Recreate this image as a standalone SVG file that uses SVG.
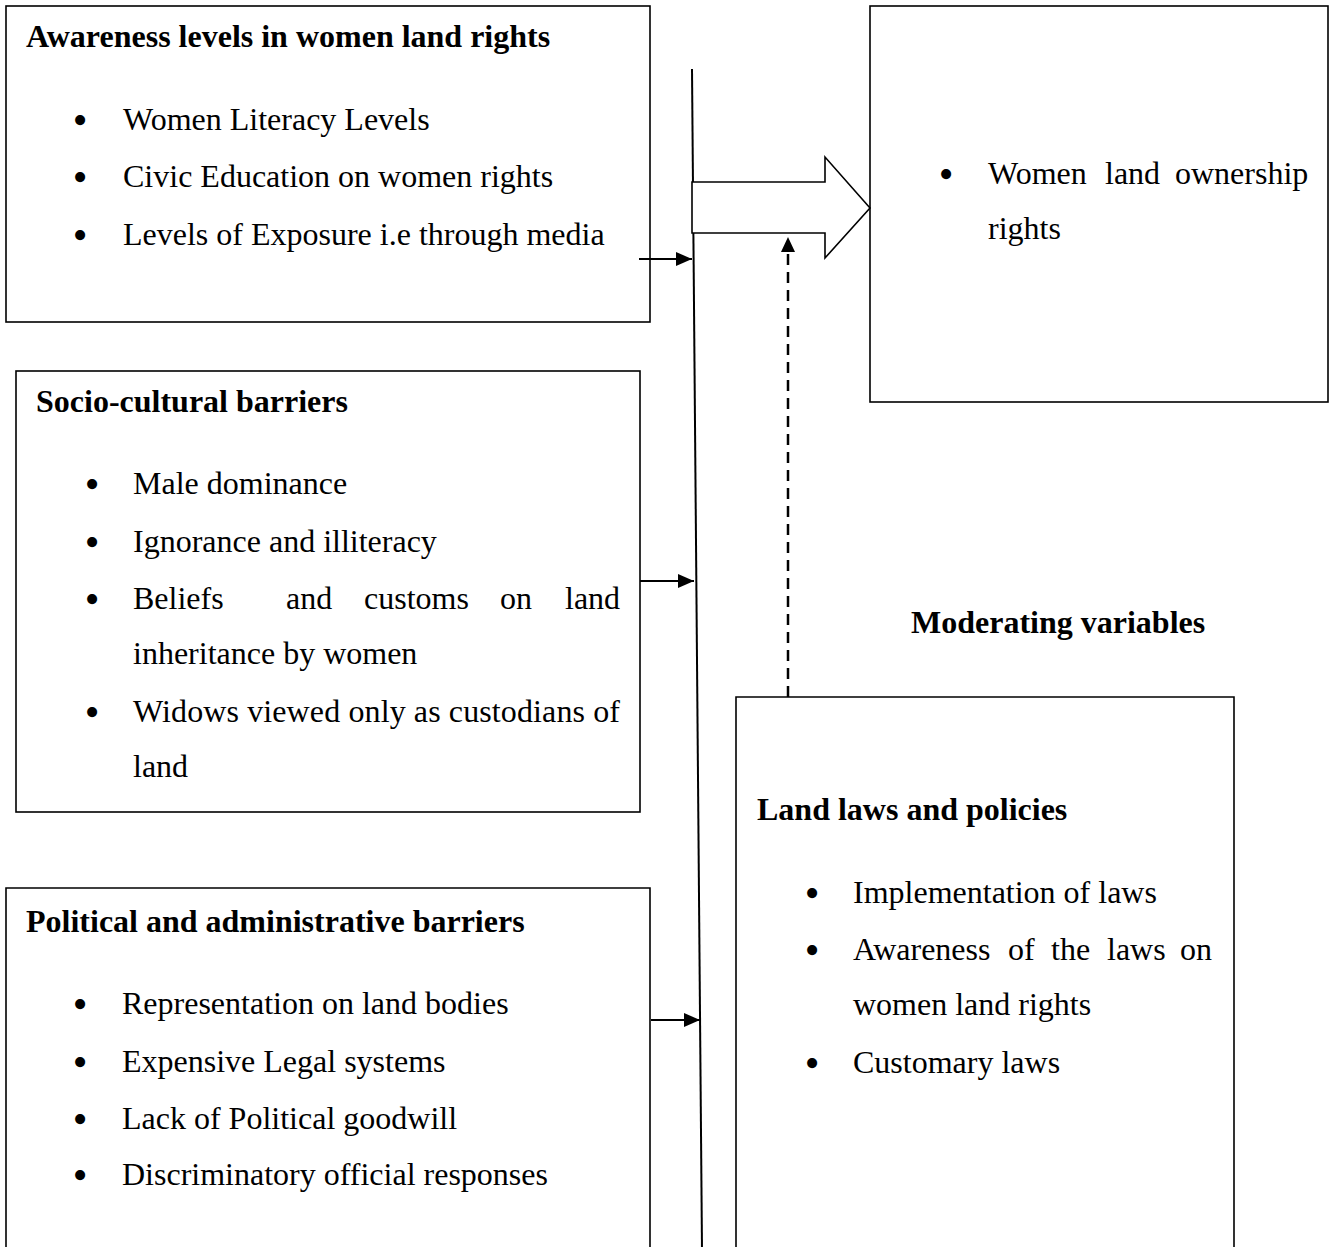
<svg xmlns="http://www.w3.org/2000/svg" width="1331" height="1247" viewBox="0 0 1331 1247">
<style>
  .box{fill:#fff;stroke:#000;stroke-width:1.6}
  .t{font-family:"Liberation Serif","Times New Roman",serif;font-size:32px;fill:#000}
  .b{font-weight:bold}
  .bul{text-anchor:middle;font-size:42px}
  .ln{stroke:#000;stroke-width:2;fill:none}
  .dash{stroke:#000;stroke-width:2.5;fill:none;stroke-dasharray:11 7}
</style>
<defs>
  <marker id="ah" markerUnits="userSpaceOnUse" markerWidth="17" markerHeight="15" refX="16" refY="7" orient="auto">
    <path d="M0,0 L16,7 L0,14 z" fill="#000"/>
  </marker>
</defs>
<rect width="1331" height="1247" fill="#fff"/>

<g id="awareness">
  <rect class="box" x="6" y="6" width="644" height="316"/>
  <text class="t b" x="26" y="47">Awareness levels in women land rights</text>
  <text class="t bul" x="80" y="134">•</text>
  <text class="t" x="123" y="130">Women Literacy Levels</text>
  <text class="t bul" x="80" y="191">•</text>
  <text class="t" x="123" y="187">Civic Education on women rights</text>
  <text class="t bul" x="80" y="249">•</text>
  <text class="t" x="123" y="245">Levels of Exposure i.e through media</text>
</g>

<g id="sociocultural">
  <rect class="box" x="16" y="371" width="624" height="441"/>
  <text class="t b" x="36" y="412">Socio-cultural barriers</text>
  <text class="t bul" x="92" y="498">•</text>
  <text class="t" x="133" y="494">Male dominance</text>
  <text class="t bul" x="92" y="556">•</text>
  <text class="t" x="133" y="552">Ignorance and illiteracy</text>
  <text class="t bul" x="92" y="613">•</text>
  <text class="t" y="609"><tspan x="133">Beliefs</tspan><tspan x="286">and</tspan><tspan x="364">customs</tspan><tspan x="500">on</tspan><tspan x="565">land</tspan></text>
  <text class="t" x="133" y="664">inheritance by women</text>
  <text class="t bul" x="92" y="726">•</text>
  <text class="t" x="133" y="722" textLength="487" lengthAdjust="spacing">Widows viewed only as custodians of</text>
  <text class="t" x="133" y="777">land</text>
</g>

<g id="political">
  <path class="box" d="M6,1250 V888 H650 V1250"/>
  <text class="t b" x="26" y="932">Political and administrative barriers</text>
  <text class="t bul" x="80" y="1018">•</text>
  <text class="t" x="122" y="1014">Representation on land bodies</text>
  <text class="t bul" x="80" y="1076">•</text>
  <text class="t" x="122" y="1072">Expensive Legal systems</text>
  <text class="t bul" x="80" y="1133">•</text>
  <text class="t" x="122" y="1129">Lack of Political goodwill</text>
  <text class="t bul" x="80" y="1189">•</text>
  <text class="t" x="122" y="1185">Discriminatory official responses</text>
</g>

<g id="outcome">
  <rect class="box" x="870" y="6" width="458" height="396"/>
  <text class="t bul" x="946" y="188">•</text>
  <text class="t" y="184"><tspan x="988">Women</tspan><tspan x="1105">land</tspan><tspan x="1175">ownership</tspan></text>
  <text class="t" x="988" y="239">rights</text>
</g>

<g id="moderating-label">
  <text class="t b" x="911" y="633">Moderating variables</text>
</g>

<g id="landlaws">
  <path class="box" d="M736,1250 V697 H1234 V1250"/>
  <text class="t b" x="757" y="820">Land laws and policies</text>
  <text class="t bul" x="812" y="907">•</text>
  <text class="t" x="853" y="903">Implementation of laws</text>
  <text class="t bul" x="812" y="964">•</text>
  <text class="t" y="960"><tspan x="853">Awareness</tspan><tspan x="1008">of</tspan><tspan x="1051">the</tspan><tspan x="1107">laws</tspan><tspan x="1180">on</tspan></text>
  <text class="t" x="853" y="1015">women land rights</text>
  <text class="t bul" x="812" y="1077">•</text>
  <text class="t" x="853" y="1073">Customary laws</text>
</g>

<g id="connectors">
  <line class="ln" x1="692" y1="69" x2="702" y2="1250"/>
  <polygon points="692,182 825,182 825,157 870,208 825,258 825,233 692,233" fill="#fff" stroke="#000" stroke-width="1.6"/>
  <line class="ln" x1="639" y1="259" x2="692" y2="259" marker-end="url(#ah)"/>
  <line class="ln" x1="640" y1="581" x2="694" y2="581" marker-end="url(#ah)"/>
  <line class="ln" x1="651" y1="1020" x2="700" y2="1020" marker-end="url(#ah)"/>
  <line class="dash" x1="788" y1="697" x2="788" y2="252"/>
  <path d="M781,252 L795,252 L788,237 z" fill="#000"/>
</g>
</svg>
